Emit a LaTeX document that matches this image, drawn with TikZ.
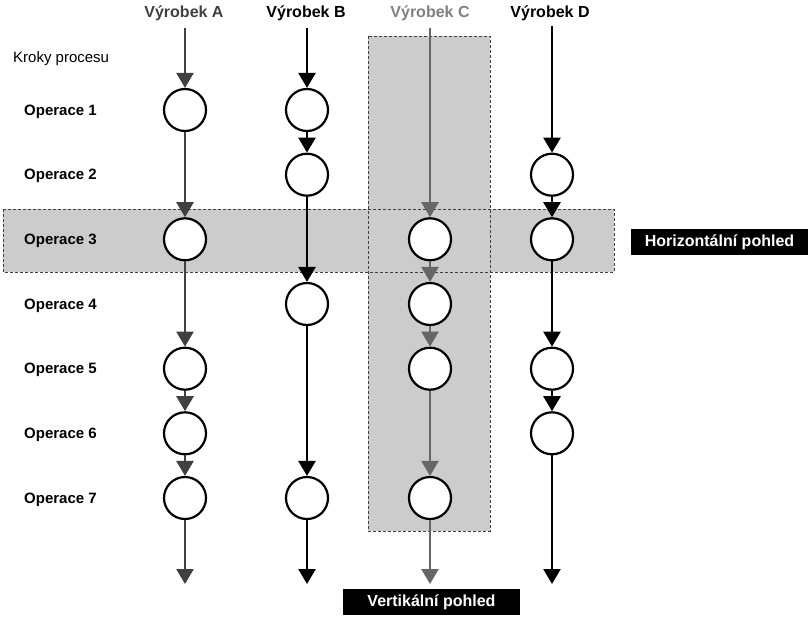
\documentclass[tikz,border=0pt]{standalone}
\usepackage{fontspec}
\setmainfont{Liberation Sans}
\usetikzlibrary{arrows.meta}
\definecolor{lineA}{gray}{0.25}
\definecolor{lineC}{gray}{0.4}
\definecolor{headC}{gray}{0.5}
\definecolor{band}{gray}{0.8}
\tikzset{>={Triangle[width=17pt,length=15pt]}}
\tikzset{
  opcircle/.style={circle,draw=black,fill=white,line width=2.2pt,minimum size=42pt,inner sep=0pt},
  flow/.style={->,line width=2.6pt},
  viewbox/.style={draw=black!75,dash pattern=on 3pt off 2pt,line width=0.8pt},
  viewtag/.style={fill=black,text=white,font=\bfseries\fontsize{16}{18}\selectfont,minimum width=177pt,minimum height=26pt,inner sep=0pt},
  stepname/.style={font=\bfseries\fontsize{15}{17}\selectfont,anchor=west,inner sep=0pt},
  product/.style={font=\bfseries\fontsize{16}{18}\selectfont}
}

\begin{document}
\begin{tikzpicture}[x=1pt,y=-1pt]
\useasboundingbox (0,0) rectangle (808,616);

\fill[band] (368,36) rectangle (490,531);
\fill[band] (3,209) rectangle (614,272);
\draw[viewbox] (368,36) rectangle (490,531);
\draw[viewbox] (3,209) rectangle (614,272);

\node[viewtag] (horiz) at (719.5,242) {Horizontální pohled};
\node[viewtag] (vert) at (431.5,602) {Vertikální pohled};

\node[font=\fontsize{15}{17}\selectfont,anchor=west,inner sep=0pt] (steps) at (13,58.5) {Kroky procesu};
\foreach \k/\y in {1/111.5,2/176.2,3/240.8,4/305.5,5/370.2,6/434.8,7/499.5}
  \node[stepname] (op\k) at (24,\y) {Operace \k};

\node[product,text=lineA] (hA) at (184,13) {Výrobek A};
\node[product] (hB) at (306,13) {Výrobek B};
\node[product,text=headC] (hC) at (430,13) {Výrobek C};
\node[product] (hD) at (550,13) {Výrobek D};

\coordinate (atop) at (185,28); \coordinate (abot) at (185,584);
\coordinate (btop) at (307,28); \coordinate (bbot) at (307,584);
\coordinate (ctop) at (430,28); \coordinate (cbot) at (430,584);
\coordinate (dtop) at (552,26); \coordinate (dbot) at (552,584);

\node[opcircle] (a1) at (185,110) {};
\node[opcircle] (a3) at (185,239.3) {};
\node[opcircle] (a5) at (185,368.7) {};
\node[opcircle] (a6) at (185,433.3) {};
\node[opcircle] (a7) at (185,498) {};

\node[opcircle] (b1) at (307,110) {};
\node[opcircle] (b2) at (307,174.7) {};
\node[opcircle] (b4) at (307,304) {};
\node[opcircle] (b7) at (307,498) {};

\node[opcircle] (c3) at (430,239.3) {};
\node[opcircle] (c4) at (430,304) {};
\node[opcircle] (c5) at (430,368.7) {};
\node[opcircle] (c7) at (430,498) {};

\node[opcircle] (d2) at (552,174.7) {};
\node[opcircle] (d3) at (552,239.3) {};
\node[opcircle] (d5) at (552,368.7) {};
\node[opcircle] (d6) at (552,433.3) {};

\foreach \s/\t in {atop/a1,a1/a3,a3/a5,a5/a6,a6/a7,a7/abot}
  \draw[flow,lineA] (\s) -- (\t);
\foreach \s/\t in {btop/b1,b1/b2,b2/b4,b4/b7,b7/bbot}
  \draw[flow,black] (\s) -- (\t);
\foreach \s/\t in {ctop/c3,c3/c4,c4/c5,c5/c7,c7/cbot}
  \draw[flow,lineC] (\s) -- (\t);
\foreach \s/\t in {dtop/d2,d2/d3,d3/d5,d5/d6,d6/dbot}
  \draw[flow,black] (\s) -- (\t);

\end{tikzpicture}
\end{document}
